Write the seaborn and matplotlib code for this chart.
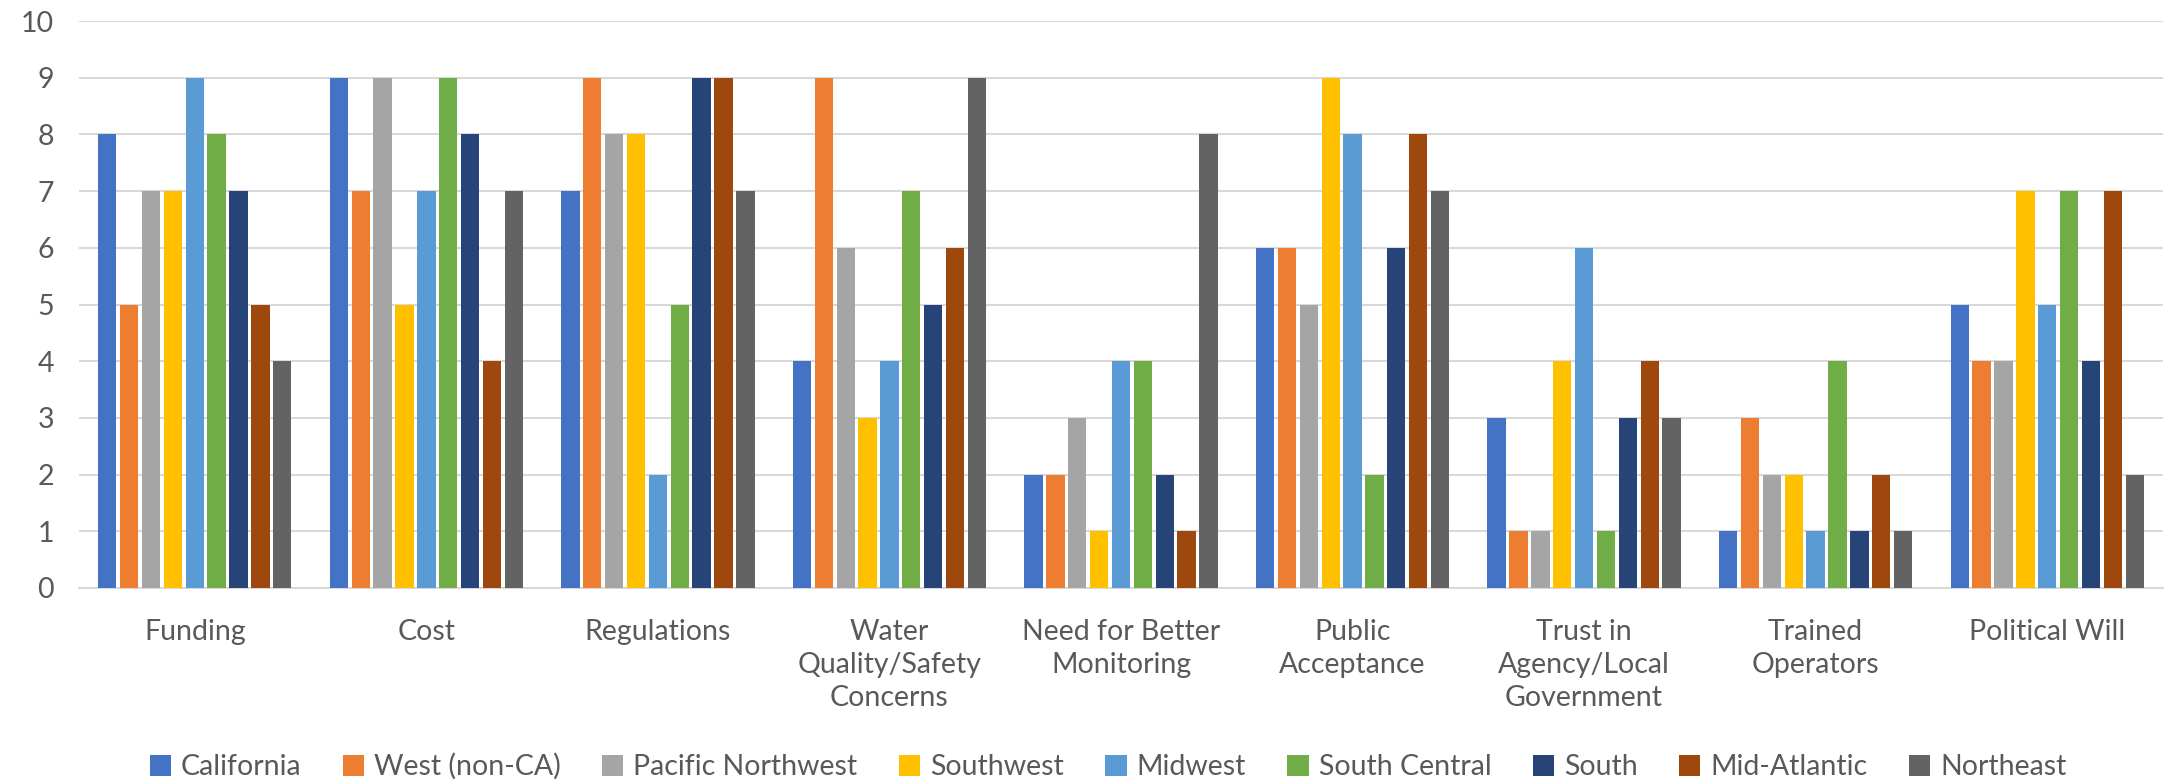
import matplotlib
matplotlib.use("Agg")
import matplotlib.pyplot as plt
import seaborn as sns
import pandas as pd

categories = [
    "Funding", "Cost", "Regulations", "Water\nQuality/Safety\nConcerns",
    "Need for Better\nMonitoring", "Public\nAcceptance",
    "Trust in\nAgency/Local\nGovernment", "Trained\nOperators", "Political Will",
]
regions = [
    "California", "West (non-CA)", "Pacific Northwest", "Southwest", "Midwest",
    "South Central", "South", "Mid-Atlantic", "Northeast",
]
california = [8, 9, 7, 4, 2, 6, 3, 1, 5]
west_non_ca = [5, 7, 9, 9, 2, 6, 1, 3, 4]
pacific_northwest = [7, 9, 8, 6, 3, 5, 1, 2, 4]
southwest = [7, 5, 8, 3, 1, 9, 4, 2, 7]
midwest = [9, 7, 2, 4, 4, 8, 6, 1, 5]
south_central = [8, 9, 5, 7, 4, 2, 1, 4, 7]
south = [7, 8, 9, 5, 2, 6, 3, 1, 4]
mid_atlantic = [5, 4, 9, 6, 1, 8, 4, 2, 7]
northeast = [4, 7, 7, 9, 8, 7, 3, 1, 2]

series = [california, west_non_ca, pacific_northwest, southwest, midwest,
          south_central, south, mid_atlantic, northeast]
colors = ["#4472C4", "#ED7D31", "#A5A5A5", "#FFC000", "#5B9BD5",
          "#70AD47", "#264478", "#9E480E", "#636363"]

rows = []
for region, vals in zip(regions, series):
    for cat, v in zip(categories, vals):
        rows.append({"Category": cat, "Region": region, "Value": v})
df = pd.DataFrame(rows)

sns.set_theme(style="white")
plt.rcParams["font.family"] = ["Lato", "DejaVu Sans"]
text_color = "#595959"
font_size = 20.5

fig = plt.figure(figsize=(21.81, 7.84), dpi=100)
ax = fig.add_axes([79 / 2181, 1 - 588 / 784, (2163 - 79) / 2181, (588 - 21) / 784])

sns.barplot(data=df, x="Category", y="Value", hue="Region", order=categories,
            hue_order=regions, palette=colors, width=0.85, saturation=1,
            linewidth=0, ax=ax, zorder=3)

# leave a thin white gap between neighbouring bars
for patch in ax.patches:
    w = patch.get_width()
    if w > 0:
        new_w = w * 0.84
        patch.set_x(patch.get_x() + (w - new_w) / 2)
        patch.set_width(new_w)

ax.set_ylim(0, 10)
ax.set_yticks(range(0, 11))
ax.set_xlim(-0.5, len(categories) - 0.5)
ax.yaxis.grid(True, color="#D9D9D9", linewidth=1.5, zorder=0)
ax.set_axisbelow(True)
for side in ["top", "right", "left"]:
    ax.spines[side].set_visible(False)
ax.spines["bottom"].set_color("#D9D9D9")
ax.spines["bottom"].set_linewidth(1.5)
ax.set_xlabel("")
ax.set_ylabel("")
ax.tick_params(axis="both", length=0, labelsize=font_size, colors=text_color)
ax.tick_params(axis="x", pad=22)
for lbl in ax.get_xticklabels():
    lbl.set_linespacing(1.35)
ax.tick_params(axis="y", pad=18)

handles, labels = ax.get_legend_handles_labels()
ax.get_legend().remove()
fig.legend(handles, labels, loc="center", bbox_to_anchor=(0.508, 0.022), ncol=9,
           frameon=False, fontsize=font_size, labelcolor=text_color,
           handlelength=0.75, handleheight=0.75, handletextpad=0.35,
           columnspacing=1.45)

fig.savefig("out.png", dpi=100)
